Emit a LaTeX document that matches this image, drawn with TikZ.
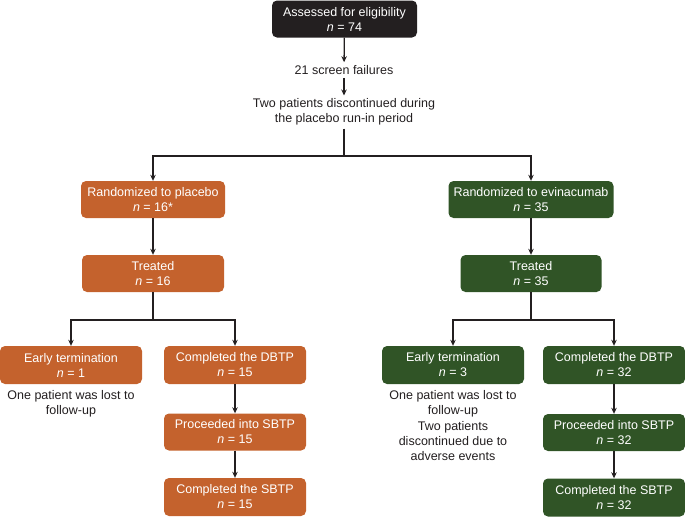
\documentclass[tikz,border=0pt]{standalone}
\usepackage{fontspec}
\setmainfont{Liberation Sans}
\usetikzlibrary{arrows.meta}
\definecolor{boxorange}{RGB}{196,98,45}
\definecolor{boxgreen}{RGB}{48,84,38}
\definecolor{boxblack}{RGB}{35,31,32}
\definecolor{ink}{RGB}{35,31,32}
\tikzset{
  base/.style={rectangle, rounded corners=5pt, align=center, text=white,
    font=\fontsize{12.5}{15}\selectfont, inner sep=2pt, minimum height=37pt},
  obox/.style={base, fill=boxorange},
  gbox/.style={base, fill=boxgreen},
  kbox/.style={base, fill=boxblack},
  note/.style={align=center, text=ink, font=\fontsize{12.5}{15}\selectfont, inner sep=3pt},
  conn/.style={draw=ink, line width=1.3pt},
  arr/.style={conn, -{Stealth[length=6pt,width=5.5pt]}}
}
\begin{document}
\begin{tikzpicture}[x=1pt,y=-1pt]
\useasboundingbox (0,0) rectangle (685,517);
% top
\node[kbox, minimum width=145pt] (top) at (344.5,19) {Assessed for eligibility\\\textit{n} = 74};
\node[note] (fail) at (344,70) {21 screen failures};
\node[note] (disc) at (344,112) {Two patients discontinued during\\the placebo run-in period};
\coordinate (split) at (344,156);
% arms
\node[obox, minimum width=144pt] (randp) at (153,199.5) {Randomized to placebo\\\textit{n} = 16*};
\node[gbox, minimum width=165pt] (rande) at (531,199.5) {Randomized to evinacumab\\\textit{n} = 35};
\node[obox, minimum width=142pt] (treatp) at (153,273.5) {Treated\\\textit{n} = 16};
\node[gbox, minimum width=141pt] (treate) at (531,273.5) {Treated\\\textit{n} = 35};
\coordinate (splitp) at (153,320);
\coordinate (splite) at (531,320);
% placebo branch
\node[obox, minimum width=142pt, minimum height=38pt] (earlyp) at (71,365) {Early termination\\\textit{n} = 1};
\node[obox, minimum width=142pt, minimum height=38pt] (dbtpp) at (235,365) {Completed the DBTP\\\textit{n} = 15};
\node[obox, minimum width=142pt] (procp) at (235,432) {Proceeded into SBTP\\\textit{n} = 15};
\node[obox, minimum width=142pt, minimum height=38pt] (compp) at (235,497) {Completed the SBTP\\\textit{n} = 15};
\node[note] (notep) at (71,403.5) {One patient was lost to\\follow-up};
% evinacumab branch
\node[gbox, minimum width=142pt, minimum height=38pt] (earlye) at (453,365) {Early termination\\\textit{n} = 3};
\node[gbox, minimum width=142pt, minimum height=38pt] (dbtpe) at (614,365) {Completed the DBTP\\\textit{n} = 32};
\node[gbox, minimum width=142pt] (proce) at (614,432.5) {Proceeded into SBTP\\\textit{n} = 32};
\node[gbox, minimum width=142pt, minimum height=38pt] (compe) at (614,497.5) {Completed the SBTP\\\textit{n} = 32};
\node[note] (notee1) at (453,403.5) {One patient was lost to\\follow-up};
\node[note] (notee2) at (453,441.5) {Two patients\\discontinued due to\\adverse events};
% connectors
\draw[arr] (top) -- (fail);
\draw[arr] (fail) -- (disc);
\draw[conn] (disc.south) -- (split);
\draw[arr] (split) -| (randp.north);
\draw[arr] (split) -| (rande.north);
\draw[arr] (randp) -- (treatp);
\draw[arr] (rande) -- (treate);
\draw[conn] (treatp.south) -- (splitp);
\draw[arr] (splitp) -| (earlyp.north);
\draw[arr] (splitp) -| (dbtpp.north);
\draw[conn] (treate.south) -- (splite);
\draw[arr] (splite) -| (earlye.north);
\draw[arr] (splite) -| (dbtpe.north);
\draw[arr] (dbtpp) -- (procp);
\draw[arr] (procp) -- (compp);
\draw[arr] (dbtpe) -- (proce);
\draw[arr] (proce) -- (compe);
\end{tikzpicture}
\end{document}
